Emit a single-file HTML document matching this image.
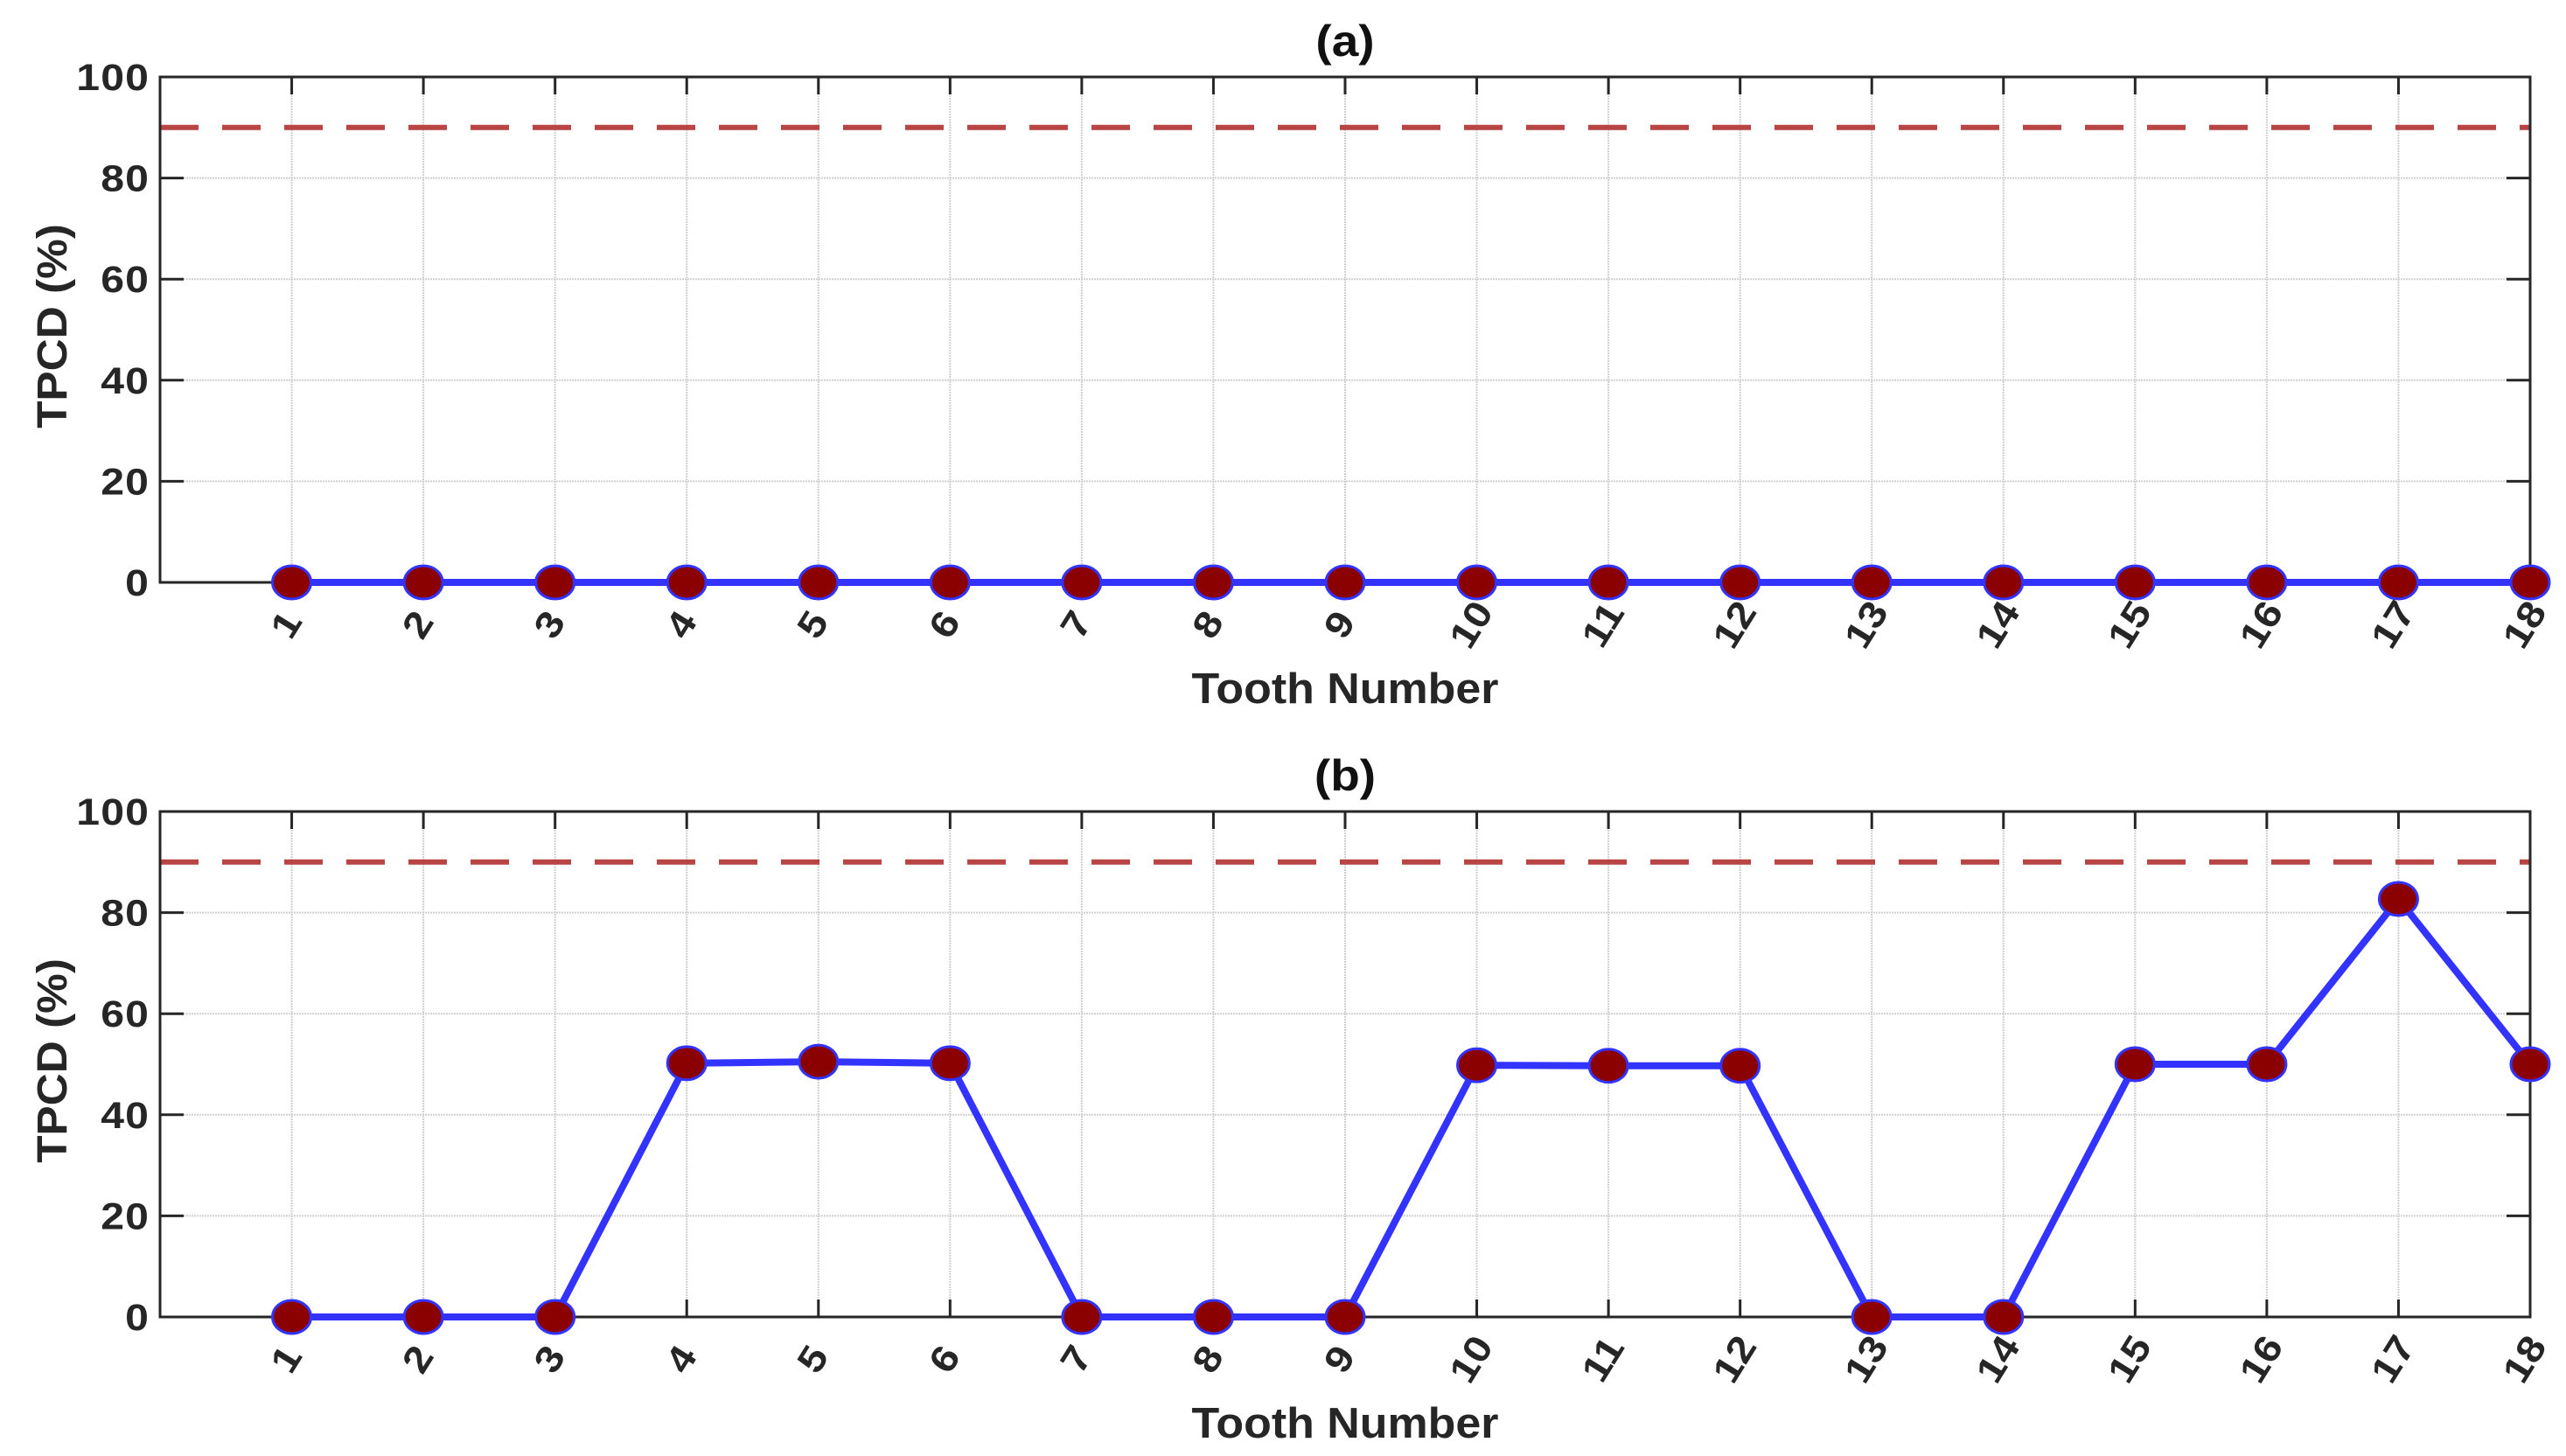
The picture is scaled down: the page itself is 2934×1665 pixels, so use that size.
<!DOCTYPE html>
<html><head><meta charset="utf-8"><style>
html,body{margin:0;padding:0;background:#fff;}
svg{display:block;font-family:"Liberation Sans",sans-serif;font-weight:bold;}
</style></head><body>
<svg id="chart" width="2934" height="1665" viewBox="0 0 2934 1665" xmlns="http://www.w3.org/2000/svg"></svg>
<script>
const teeth = [1,2,3,4,5,6,7,8,9,10,11,12,13,14,15,16,17,18];
const seriesA = [0,0,0,0,0,0,0,0,0,0,0,0,0,0,0,0,0,0];
const seriesB = [0,0,0,50.2,50.5,50.2,0,0,0,49.8,49.7,49.7,0,0,50,50,82.7,50];
const yTicks = [0,20,40,60,80,100];
const threshold = [90];
const panelTitles = ["(a)","(b)"];

const NS="http://www.w3.org/2000/svg";
const svg=document.getElementById('chart');
function mk(tag,attrs,parent){const e=document.createElementNS(NS,tag);for(const k in attrs)e.setAttribute(k,attrs[k]);(parent||svg).appendChild(e);return e;}

const L=183,R=2893;
const panels=[{top:88,bot:666,data:seriesA,title:panelTitles[0]},{top:928,bot:1506,data:seriesB,title:panelTitles[1]}];

panels.forEach((p,pi)=>{
  const g=mk('g',{});
  
  
  const xs=v=>L+(v-0)/(18-0)*(R-L);
  const ys=v=>p.bot-(v-0)/(100-0)*(p.bot-p.top);
  yTicks.forEach(t=>{
    if(t>0&&t<100){const gl=mk('line',{x1:L,x2:R,y1:ys(t),y2:ys(t),stroke:'#d0d0d0','stroke-width':2,'stroke-dasharray':'2,1'},g);
    }
  });
  teeth.forEach(t=>{
    if(t<18){const gl=mk('line',{x1:xs(t),x2:xs(t),y1:p.top,y2:p.bot,stroke:'#d0d0d0','stroke-width':2,'stroke-dasharray':'2,1'},g);
    }
  });
  const th=mk('line',{x1:L,x2:R,y1:ys(threshold[0]),y2:ys(threshold[0]),stroke:'#b94444','stroke-width':6,'stroke-dasharray':'44,27'},g);
  
  const box=mk('rect',{x:L,y:p.top,width:R-L,height:p.bot-p.top,fill:'none',stroke:'#262626','stroke-width':3},g);
  
  yTicks.forEach(t=>{
    mk('line',{x1:L,x2:L+27,y1:ys(t),y2:ys(t),stroke:'#262626','stroke-width':3},g);
    mk('line',{x1:R-27,x2:R,y1:ys(t),y2:ys(t),stroke:'#262626','stroke-width':3},g);
    const tx=mk('text',{x:L-12,y:ys(t)+15,'text-anchor':'end','font-size':43,fill:'#262626','letter-spacing':'1',transform:`translate(${(L-12)*-0.12},0) scale(1.12,1)`},g);
    tx.textContent=t;
    
  });
  teeth.forEach(t=>{
    mk('line',{x1:xs(t),x2:xs(t),y1:p.bot,y2:p.bot-20,stroke:'#262626','stroke-width':3},g);
    mk('line',{x1:xs(t),x2:xs(t),y1:p.top,y2:p.top+20,stroke:'#262626','stroke-width':3},g);
    const tx=mk('text',{x:0,y:0,'text-anchor':'middle','font-size':43,fill:'#262626',transform:`translate(${xs(t)+6},${p.bot+56}) rotate(-58) scale(1.12,1)`},g);
    tx.textContent=t;
    
  });
  const pts=teeth.map((t,i)=>xs(t)+','+ys(p.data[i])).join(' ');
  const pl=mk('polyline',{points:pts,fill:'none',stroke:'#3333ff','stroke-width':8,'stroke-linejoin':'round'},g);
  
  teeth.forEach((t,i)=>{
    const c=mk('ellipse',{cx:xs(t),cy:ys(p.data[i]),rx:22,ry:19,fill:'#8b0000',stroke:'#3333ff','stroke-width':3},g);
    
  });
  const cx=(L+R)/2;
  const ti=mk('text',{x:0,y:0,'text-anchor':'middle','font-size':50,fill:'#111',transform:`translate(${cx},${p.top-24}) scale(1.1,1)`},g);
  ti.textContent=p.title;
  
  const xl=mk('text',{x:0,y:0,'text-anchor':'middle','font-size':49,fill:'#262626',transform:`translate(${cx},${p.bot+138}) scale(1.06,1)`},g);
  xl.textContent='Tooth Number';
  
  const yl=mk('text',{x:0,y:0,'text-anchor':'middle','font-size':48,fill:'#262626',transform:`translate(76,${(p.top+p.bot)/2-4}) rotate(-90) scale(1.07,1)`},g);
  yl.textContent='TPCD (%)';
  
});
</script>
</body></html>
